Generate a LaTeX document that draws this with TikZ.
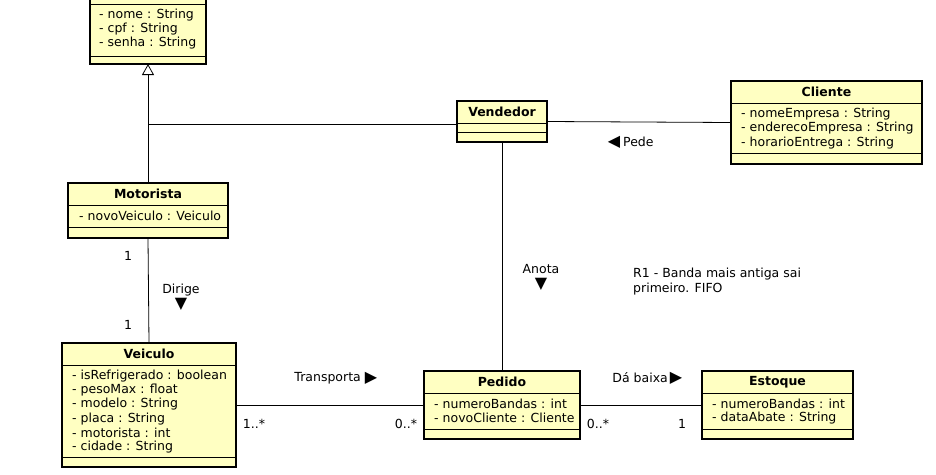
\documentclass[tikz,border=0pt]{standalone}
\usepackage{fontspec}
\setmainfont{DejaVu Sans}
\usetikzlibrary{arrows.meta}
\definecolor{clsfill}{RGB}{255,255,194}
\begin{document}
\begin{tikzpicture}[x=1pt,y=-1pt,
  cls/.style={draw=black, line width=1.8pt, fill=clsfill, anchor=north west, inner sep=0pt, outer sep=0pt},
  sep/.style={line width=0.9pt},
  ttl/.style={font=\fontsize{12.5}{14}\selectfont\bfseries, inner sep=0pt},
  attr/.style={font=\fontsize{12.5}{14}\selectfont, anchor=west, inner sep=0pt},
  lbl/.style={font=\fontsize{12.5}{14}\selectfont, inner sep=0pt},
  tri/.style={font=\fontsize{16}{16}\selectfont, inner sep=0pt},
  conn/.style={line width=0.8pt}]
\useasboundingbox (0,0) rectangle (936,474);
\clip (0,0) rectangle (936,474);

% Top class (cut off)
\node[cls, minimum width=116pt, minimum height=76pt] (usuario) at (90,-12) {};
\draw[sep] (90,4) -- (206,4);
\draw[sep] (90,56.5) -- (206,56.5);
\node[attr] (u1) at (99,15) {- nome : String};
\node[attr] (u2) at (99,29) {- cpf : String};
\node[attr] (u3) at (99,43) {- senha : String};

% Motorista
\node[cls, minimum width=160pt, minimum height=55pt] (motorista) at (68,183) {};
\node[ttl] (mt) at (148,194) {Motorista};
\draw[sep] (68,205) -- (228,205);
\node[attr] (m1) at (79,216) {- novoVeiculo : Veiculo};
\draw[sep] (68,227) -- (228,227);

% Veiculo
\node[cls, minimum width=174pt, minimum height=124pt] (veiculo) at (62,343) {};
\node[ttl] (vt) at (149,354) {Veiculo};
\draw[sep] (62,365) -- (236,365);
\node[attr] (v1) at (72,376) {- isRefrigerado : boolean};
\node[attr] (v2) at (72,390.5) {- pesoMax : float};
\node[attr] (v3) at (72,404.5) {- modelo : String};
\node[attr] (v4) at (72,419) {- placa : String};
\node[attr] (v5) at (72,433) {- motorista : int};
\node[attr] (v6) at (72,447) {- cidade : String};
\draw[sep] (62,457.5) -- (236,457.5);

% Vendedor
\node[cls, minimum width=90pt, minimum height=41pt] (vendedor) at (457,101) {};
\node[ttl] (vdt) at (502,112) {Vendedor};
\draw[sep] (457,123) -- (547,123);
\draw[sep] (457,132) -- (547,132);

% Cliente
\node[cls, minimum width=191pt, minimum height=83pt] (cliente) at (731,81) {};
\node[ttl] (ct) at (826.5,92) {Cliente};
\draw[sep] (731,103) -- (922,103);
\node[attr] (c1) at (741,114) {- nomeEmpresa : String};
\node[attr] (c2) at (741,128.5) {- enderecoEmpresa : String};
\node[attr] (c3) at (741,143) {- horarioEntrega : String};
\draw[sep] (731,153.5) -- (922,153.5);

% Pedido
\node[cls, minimum width=156pt, minimum height=68pt] (pedido) at (424,371) {};
\node[ttl] (pt) at (502,382) {Pedido};
\draw[sep] (424,393) -- (580,393);
\node[attr] (p1) at (434,404) {- numeroBandas : int};
\node[attr] (p2) at (434,418) {- novoCliente : Cliente};
\draw[sep] (424,429) -- (580,429);

% Estoque
\node[cls, minimum width=151pt, minimum height=68pt] (estoque) at (702,371) {};
\node[ttl] (et) at (777.5,382) {Estoque};
\draw[sep] (702,393) -- (853,393);
\node[attr] (e1) at (712,404) {- numeroBandas : int};
\node[attr] (e2) at (712,418) {- dataAbate : String};
\draw[sep] (702,429) -- (853,429);

% Connectors
\coordinate (gen) at (148,124);
\draw[conn, -{Triangle[open, length=11pt, width=12pt, line width=0.8pt]}] (motorista.north) -- (usuario.south);
\draw[conn] (gen) -- (vendedor.west |- gen);
\draw[conn] (vendedor.east) -- (cliente.west);
\draw[conn] (vendedor.south) -- (pedido.north);
\draw[conn] (motorista.south) -- (veiculo.north);
\draw[conn] (veiculo.east) -- (pedido.west);
\draw[conn] (pedido.east) -- (estoque.west);

% Labels
\node[lbl] (m1a) at (128,256) {1};
\node[lbl] (m1b) at (128,325) {1};
\node[lbl] (dir) at (181,290.5) {Dirige};
\node[tri] (dirt) at (181,304) {▼};
\node[lbl] (ano) at (541,269.5) {Anota};
\node[tri] (anot) at (541,284) {▼};
\node[tri] (pedt) at (614,142) {◀};
\node[lbl, anchor=west] (ped) at (623,142) {Pede};
\node[lbl, anchor=east] (tra) at (361,378) {Transporta};
\node[tri] (trat) at (371,378) {▶};
\node[lbl] (v1m) at (254,424) {1..*};
\node[lbl] (p0m) at (406,424) {0..*};
\node[lbl, anchor=east] (dab) at (668,378) {Dá baixa};
\node[tri] (dabt) at (676,378) {▶};
\node[lbl] (p0e) at (598,424) {0..*};
\node[lbl] (e1m) at (682,424) {1};
\node[lbl, anchor=west] (n1) at (633,274) {R1 - Banda mais antiga sai};
\node[lbl, anchor=west] (n2) at (633,289) {primeiro. FIFO};
\end{tikzpicture}
\end{document}
